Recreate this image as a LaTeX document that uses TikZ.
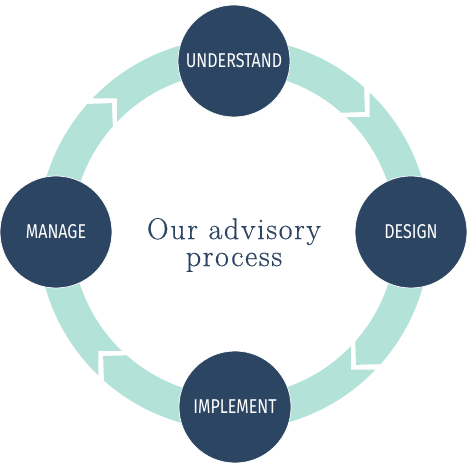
\documentclass[tikz,border=0pt]{standalone}
\usepackage{fontspec}
\usetikzlibrary{positioning}
\newfontfamily\stagefont[FakeStretch=0.8]{Fira Sans}
\newfontfamily\titlefont[LetterSpace=5.5,FakeBold=0.5]{Latin Modern Roman}
\definecolor{mint}{HTML}{B3E3D8}
\definecolor{navy}{HTML}{2C4562}
\begin{document}
\begin{tikzpicture}[x=1pt,y=1pt,
  stage/.style={circle,fill=navy,draw=white,line width=.7pt,minimum size=112pt,inner sep=0pt,text=white,font=\stagefont\fontsize{20}{20}\selectfont},
  band/.style={fill=mint,shift={(234,234)}}]
\useasboundingbox (0,0) rectangle (468,468);
% ring of arrow pieces: notch angle / tip angle
\foreach \a/\b in {130.74/43,40.74/-47,-49.26/-137,220.74/133}{\fill[band] (\a+5.44:196) arc[start angle=\a+5.44,end angle=\b+5.44,radius=196] -- (\b:179) -- (\b+5.44:162) arc[start angle=\b+5.44,end angle=\a+5.44,radius=162] -- (\a:179) -- cycle;}
\node[stage] (understand) at (234,407) {UNDERSTAND};
\node[stage] (design) at (411,236) {DESIGN};
\node[stage] (implement) at (235,61) {IMPLEMENT};
\node[stage] (manage) at (56,236) {MANAGE};
\node[text=navy,align=center,font=\titlefont\fontsize{30}{27}\selectfont] (title) at (234,223) {Our advisory\\process};
\end{tikzpicture}
\end{document}
